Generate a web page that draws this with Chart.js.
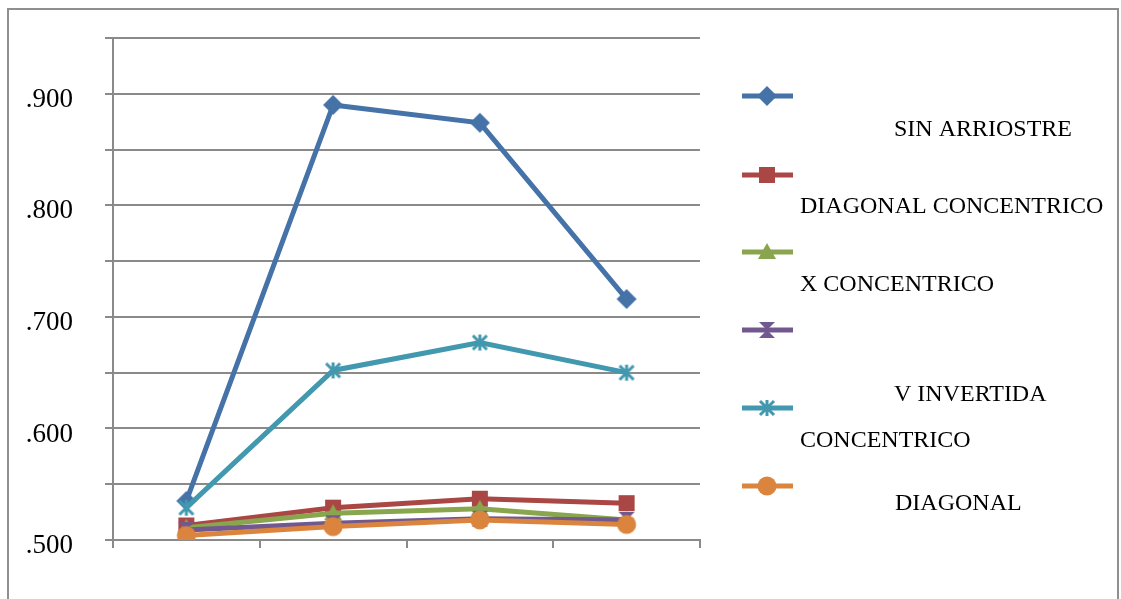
<!DOCTYPE html>
<html>
<head>
<meta charset="utf-8">
<script src="https://cdn.jsdelivr.net/npm/chart.js@4.4.0/dist/chart.umd.min.js"></script>
<style>
    html, body { margin: 0; padding: 0; background: #fff; overflow: hidden; }
    #frame { position: absolute; left: 7px; top: 8px; width: 1108px; height: 640px; border: 2px solid #8f8f8f; }
    #wrap { position: absolute; left: 0; top: 0; width: 1121px; height: 599px; }
</style>
</head>
<body>
<div id="frame"></div>
<div id="wrap"><canvas id="chart" width="1121" height="599"></canvas></div>
<script>
// datos
const categories = ['1', '2', '3', '4'];
const seriesNames = ['SIN ARRIOSTRE', 'DIAGONAL CONCENTRICO', 'X CONCENTRICO', 'V INVERTIDA', 'CONCENTRICO', 'DIAGONAL'];
const sinArriostre = [0.535, 0.890, 0.874, 0.716];
const diagonalConcentrico = [0.513, 0.529, 0.537, 0.533];
const xConcentrico = [0.511, 0.524, 0.528, 0.518];
const vInvertida = [0.509, 0.515, 0.519, 0.518];
const vInvertidaConcentrico = [0.529, 0.652, 0.677, 0.650];
const diagonal = [0.504, 0.512, 0.518, 0.514];
const yTicks = { min: 0.5, max: 0.95, step: 0.05 };

const colors = ['#4572A7', '#AA4643', '#89A54E', '#71588F', '#4198AF', '#DB843D'];
const shapes = ['diamond', 'square', 'triangle', 'hourglass', 'star', 'circle'];
const serif = '"Liberation Serif", "DejaVu Serif", serif';

// marcadores dibujados en pequenos canvas
function makeMarker(shape, color) {
    const s = 22, m = 11;
    const c = document.createElement('canvas');
    c.width = s; c.height = s;
    const ctx = c.getContext('2d');
    ctx.fillStyle = color;
    ctx.strokeStyle = color;
    ctx.beginPath();
    if (shape === 'diamond') {
        ctx.moveTo(m, 1); ctx.lineTo(21, m); ctx.lineTo(m, 21); ctx.lineTo(1, m);
        ctx.closePath(); ctx.fill();
    } else if (shape === 'square') {
        ctx.fillRect(m - 8, m - 8, 16, 16);
    } else if (shape === 'triangle') {
        ctx.moveTo(m, 2); ctx.lineTo(20, 18); ctx.lineTo(2, 18);
        ctx.closePath(); ctx.fill();
    } else if (shape === 'hourglass') {
        ctx.moveTo(3, 3); ctx.lineTo(19, 3); ctx.lineTo(m, m);
        ctx.lineTo(19, 19); ctx.lineTo(3, 19); ctx.lineTo(m, m);
        ctx.closePath(); ctx.fill();
    } else if (shape === 'star') {
        ctx.lineWidth = 3;
        ctx.moveTo(4, 4); ctx.lineTo(18, 18);
        ctx.moveTo(18, 4); ctx.lineTo(4, 18);
        ctx.moveTo(m, 3); ctx.lineTo(m, 19);
        ctx.stroke();
    } else {
        ctx.arc(m, m, 9.5, 0, Math.PI * 2); ctx.fill();
    }
    return c;
}
const markers = shapes.map((s, i) => makeMarker(s, colors[i]));

// leyenda: posicion del marcador y del texto (texto repartido como en el original)
const legendLayout = [
    { y: 96, tx: 894, ty: 130 },
    { y: 175, tx: 800, ty: 207 },
    { y: 252, tx: 800, ty: 285 },
    { y: 330, tx: 894, ty: 395 },
    { y: 408, tx: 800, ty: 441 },
    { y: 486, tx: 895, ty: 504 }
];

const legendPlugin = {
    id: 'sideLegend',
    afterDraw(chart) {
        const ctx = chart.ctx;
        ctx.save();
        chart.data.datasets.forEach((ds, i) => {
            const l = legendLayout[i];
            ctx.strokeStyle = ds.borderColor;
            ctx.lineWidth = 5;
            ctx.beginPath();
            ctx.moveTo(742, l.y);
            ctx.lineTo(793, l.y);
            ctx.stroke();
            ctx.drawImage(markers[i], 767 - 11, l.y - 11);
            ctx.fillStyle = '#000';
            ctx.font = '24px ' + serif;
            ctx.textBaseline = 'middle';
            ctx.textAlign = 'left';
            ctx.fillText(ds.label, l.tx, l.ty);
        });
        ctx.restore();
    }
};

const values = [sinArriostre, diagonalConcentrico, xConcentrico, vInvertida, vInvertidaConcentrico, diagonal];

new Chart(document.getElementById('chart'), {
    type: 'line',
    data: {
        labels: categories,
        datasets: values.map((v, i) => ({
            label: seriesNames[i],
            data: v,
            borderColor: colors[i],
            backgroundColor: colors[i],
            borderWidth: 5,
            tension: 0,
            pointStyle: markers[i],
            pointRadius: 10,
            order: values.length - i
        }))
    },
    options: {
        responsive: false,
        animation: false,
        layout: { padding: { left: 0, top: 38, right: 421, bottom: 0 } },
        plugins: { legend: { display: false }, tooltip: { enabled: false } },
        scales: {
            x: {
                offset: true,
                grid: { offset: true, drawOnChartArea: false, drawTicks: true, tickLength: 8, color: '#8a8a8a', lineWidth: 2 },
                border: { display: true, color: '#8a8a8a', width: 2 },
                ticks: { display: false },
                afterFit(scale) { scale.height = 59; }
            },
            y: {
                min: yTicks.min,
                max: yTicks.max,
                grid: { color: '#8a8a8a', lineWidth: 2, tickLength: 8 },
                border: { display: true, color: '#8a8a8a', width: 2 },
                ticks: {
                    stepSize: yTicks.step,
                    padding: 32,
                    labelOffset: 6,
                    color: '#000',
                    font: { family: serif, size: 27 },
                    callback: v => {
                        const n = Math.round(v * 1000);
                        return n % 100 === 0 ? '.' + n : '';
                    }
                },
                afterFit(scale) {
                    scale.width = 113;
                    scale.paddingTop = 0;
                    scale.paddingBottom = 0;
                }
            }
        }
    },
    plugins: [legendPlugin]
});
</script>
</body>
</html>
